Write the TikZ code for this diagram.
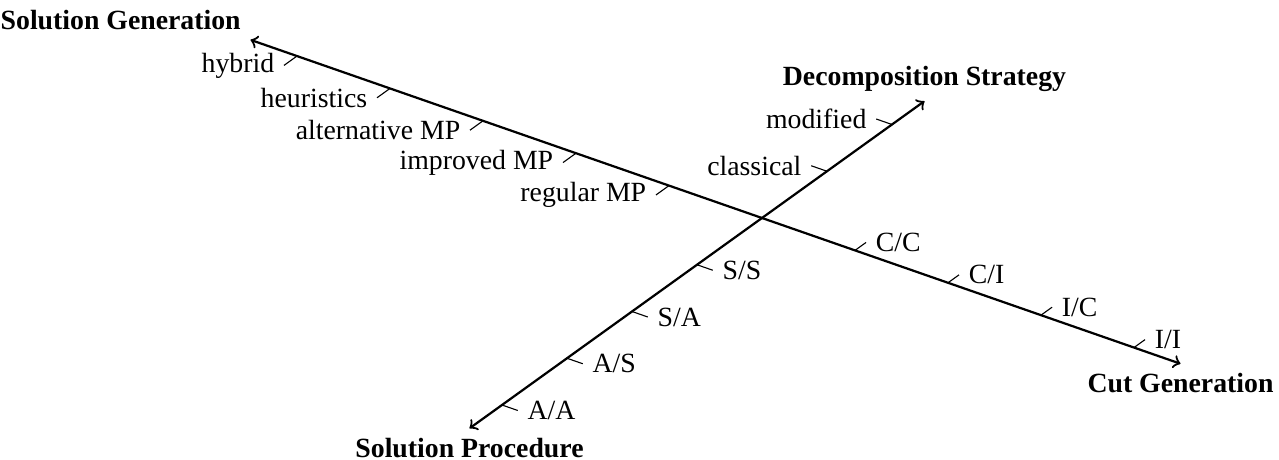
\documentclass[tikz,border=0pt]{standalone}
\usepackage{fontspec}
\setmainfont{Liberation Serif}
\begin{document}
\begin{tikzpicture}[x={(33.48pt,-11.66pt)}, y={(23.4pt,16.83pt)}]
        \useasboundingbox (-274.32pt,-87.12pt) rectangle (186.12pt,78.48pt);

        \coordinate (O)     at (0,    0);
        \coordinate (sgEnd) at (-5.5, 0);
        \coordinate (cgEnd) at (4.5,  0);
        \coordinate (spEnd) at (0, -4.5);
        \coordinate (dsEnd) at (0,  2.5);

        \draw[thick, <->] (sgEnd) -- (cgEnd);
        \draw[thick, <->] (spEnd) -- (dsEnd);

        \node (sg) at (sgEnd) [anchor=south east] {\textbf{Solution Generation}};
        \node (cg) at (cgEnd) [anchor=north]      {\textbf{Cut Generation}};
        \node (sp) at (spEnd) [anchor=north]      {\textbf{Solution Procedure}};
        \node (ds) at (dsEnd) [anchor=south]      {\textbf{Decomposition Strategy}};

        \draw (-1, 0) -- (-1, -0.2) node (regMP) [anchor=east] {regular MP};
        \draw (-2, 0) -- (-2, -0.2) node (impMP) [anchor=east] {improved MP};
        \draw (-3, 0) -- (-3, -0.2) node (altMP) [anchor=east] {alternative MP};
        \draw (-4, 0) -- (-4, -0.2) node (heur)  [anchor=east] {heuristics};
        \draw (-5, 0) -- (-5, -0.2) node (hyb)   [anchor=east] {hybrid};

        \draw ( 1, 0) -- ( 1, 0.17) node (cc) [anchor=west] {C/C};
        \draw ( 2, 0) -- ( 2, 0.17) node (ci) [anchor=west] {C/I};
        \draw ( 3, 0) -- ( 3, 0.17) node (ic) [anchor=west] {I/C};
        \draw ( 4, 0) -- ( 4, 0.17) node (ii) [anchor=west] {I/I};

        \draw (0, -1) -- (0.17, -1) node (ss) [anchor=west] {S/S};
        \draw (0, -2) -- (0.17, -2) node (sa) [anchor=west] {S/A};
        \draw (0, -3) -- (0.17, -3) node (as) [anchor=west] {A/S};
        \draw (0, -4) -- (0.17, -4) node (aa) [anchor=west] {A/A};

        \draw (0,  1) -- (-0.17, 1) node (cla) [anchor=east] {classical};
        \draw (0,  2) -- (-0.17, 2) node (mod) [anchor=east] {modified};
      \end{tikzpicture}
\end{document}
